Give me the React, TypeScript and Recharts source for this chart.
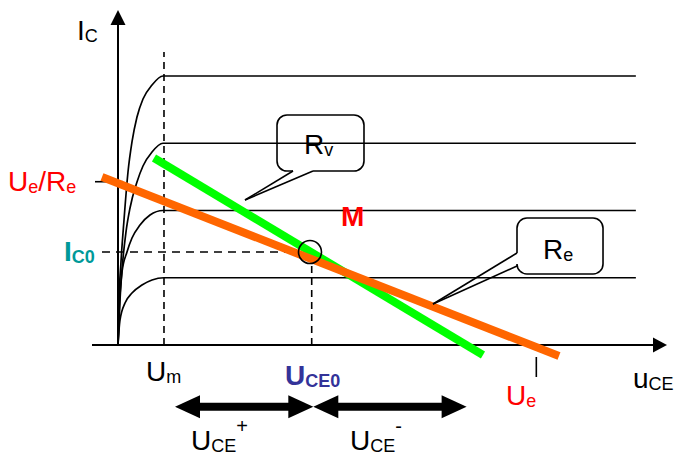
import React from 'react';
import {
  LineChart,
  Line,
  XAxis,
  YAxis,
  ReferenceLine,
  ReferenceDot,
  ReferenceArea,
} from 'recharts';

// output characteristics I_C(u_CE), one per base current (u in V, i in mA)
const curve1mA = [[0, 0], [0.024, 0.223], [0.048, 0.372], [0.167, 0.625], [0.333, 0.773], [0.571, 0.892], [0.81, 0.967], [1.095, 1.0], [12.33, 1.0]];
const curve2mA = [[0, 0], [0.024, 0.446], [0.095, 1.086], [0.214, 1.383], [0.333, 1.591], [0.524, 1.784], [0.762, 1.933], [1.071, 2.0], [12.33, 2.0]];
const curve3mA = [[0, 0], [0.048, 0.669], [0.095, 1.115], [0.19, 1.68], [0.286, 2.037], [0.452, 2.424], [0.595, 2.662], [0.81, 2.87], [1.071, 3.0], [12.33, 3.0]];
const curve4mA = [[0, 0], [0.024, 0.669], [0.071, 1.234], [0.143, 1.859], [0.238, 2.572], [0.333, 3.019], [0.452, 3.39], [0.595, 3.658], [0.81, 3.866], [1.071, 4.0], [12.33, 4.0]];

// load lines: static (Re, orange) and dynamic (Rv, green)
const loadLineRe = [[-0.381, 2.498], [10.5, -0.164]];
const loadLineRv = [[0.857, 2.78], [8.69, -0.149]];

// characteristic values
const U_M = 1.095;
const U_E = 9.96;
const UE_RE = 2.428;
const U_CE0 = 4.612;
const I_C0 = 1.383;
const Q_POINT = [4.571, 1.383];

// swing arrows below the axis
const swingTips = [1.357, 4.65, 8.3];
const swingShafts = [[1.95, 4.095], [5.21, 7.74]];
const SWING_LEVEL = -0.917;

// callouts: box [u1, u2, i1, i2], pointer bases and tip
const calloutRv = { box: [3.786, 5.857, 2.587, 3.42], bases: [[4.167, 2.587], [4.643, 2.587]], tip: [3.024, 2.156] };
const calloutRe = { box: [9.5, 11.548, 1.056, 1.888], bases: [[9.5, 1.368], [9.5, 1.175]], tip: [7.5, 0.61] };

type Piece = { t: string; kind?: 'sub' | 'sup' };

const yTitle: Piece[] = [{ t: 'I' }, { t: 'C', kind: 'sub' }];
const xTitle: Piece[] = [{ t: 'u' }, { t: 'CE', kind: 'sub' }];
const ueReText: Piece[] = [{ t: 'U' }, { t: 'e', kind: 'sub' }, { t: '/R' }, { t: 'e', kind: 'sub' }];
const ic0Text: Piece[] = [{ t: 'I' }, { t: 'C0', kind: 'sub' }];
const mText: Piece[] = [{ t: 'M' }];
const rvText: Piece[] = [{ t: 'R' }, { t: 'v', kind: 'sub' }];
const reText: Piece[] = [{ t: 'R' }, { t: 'e', kind: 'sub' }];
const umText: Piece[] = [{ t: 'U' }, { t: 'm', kind: 'sub' }];
const uce0Text: Piece[] = [{ t: 'U' }, { t: 'CE0', kind: 'sub' }];
const ueText: Piece[] = [{ t: 'U' }, { t: 'e', kind: 'sub' }];
const ucePlusText: Piece[] = [{ t: 'U' }, { t: 'CE', kind: 'sub' }, { t: '+', kind: 'sup' }];
const uceMinusText: Piece[] = [{ t: 'U' }, { t: 'CE', kind: 'sub' }, { t: '-', kind: 'sup' }];

const FONT = '"Liberation Sans", Arial, sans-serif';
const RED = '#FF0000';
const ORANGE = '#FF6600';
const GREEN = '#00FF00';
const TEAL = '#009999';
const NAVY = '#333399';

// plot spans the whole picture, origin at (118, 345)
const U_DOMAIN = [-118 / 42, 558 / 42];
const I_DOMAIN = [-112 / 67.25, 345 / 67.25];

const toPts = (arr: number[][]) => arr.map(([u, i]) => ({ u, i }));

const textShape = (pieces: Piece[], color = '#000', bold = false) => (p: any) => {
  let shift = 0;
  return (
    <text x={p.cx} y={p.cy} fontFamily={FONT} fill={color} fontWeight={bold ? 'bold' : 'normal'}>
      {pieces.map((pc, k) => {
        const target = pc.kind === 'sub' ? 2 : pc.kind === 'sup' ? -17 : 0;
        const dy = target - shift;
        shift = target;
        return (
          <tspan key={k} dy={dy} fontSize={pc.kind === 'sup' ? 20 : pc.kind ? 18 : 28}>
            {pc.t}
          </tspan>
        );
      })}
    </text>
  );
};

const arrowHead = (dir: 'up' | 'right' | 'left', len: number, half: number) => (p: any) => {
  const { cx, cy } = p;
  let pts = '';
  if (dir === 'up') pts = `${cx},${cy} ${cx - half},${cy + len} ${cx + half},${cy + len}`;
  else if (dir === 'right') pts = `${cx},${cy} ${cx - len},${cy - half} ${cx - len},${cy + half}`;
  else pts = `${cx},${cy} ${cx + len},${cy - half} ${cx + len},${cy + half}`;
  return <polygon points={pts} fill="#000" />;
};

// rounded box, open where the pointer leaves it
const boxShape = (side: 'bottom' | 'left', g0: number, g1: number) => (p: any) => {
  const { x, y, width: w, height: h } = p;
  const r = 10;
  let d = '';
  if (side === 'bottom') {
    const a = x + g0 * w;
    const b = x + g1 * w;
    d = `M${b},${y + h} L${x + w - r},${y + h} A${r},${r} 0 0 0 ${x + w},${y + h - r} L${x + w},${y + r} A${r},${r} 0 0 0 ${x + w - r},${y} L${x + r},${y} A${r},${r} 0 0 0 ${x},${y + r} L${x},${y + h - r} A${r},${r} 0 0 0 ${x + r},${y + h} L${a},${y + h}`;
  } else {
    const a = y + g0 * h;
    const b = y + g1 * h;
    d = `M${x},${b} L${x},${y + h - r} A${r},${r} 0 0 0 ${x + r},${y + h} L${x + w - r},${y + h} A${r},${r} 0 0 0 ${x + w},${y + h - r} L${x + w},${y + r} A${r},${r} 0 0 0 ${x + w - r},${y} L${x + r},${y} A${r},${r} 0 0 0 ${x},${y + r} L${x},${a}`;
  }
  return <path d={d} fill="none" stroke="#000" strokeWidth={1.6} />;
};

const circleShape = (p: any) => (
  <circle cx={p.cx} cy={p.cy} r={11.5} fill="none" stroke="#000" strokeWidth={1.6} />
);

const curves = [curve1mA, curve2mA, curve3mA, curve4mA];

export default function App() {
  const [ru1, ru2, ri1, ri2] = calloutRv.box;
  const rvGap0 = (calloutRv.bases[0][0] - ru1) / (ru2 - ru1);
  const rvGap1 = (calloutRv.bases[1][0] - ru1) / (ru2 - ru1);
  const [eu1, eu2, ei1, ei2] = calloutRe.box;
  const reGap0 = (ei2 - calloutRe.bases[0][1]) / (ei2 - ei1);
  const reGap1 = (ei2 - calloutRe.bases[1][1]) / (ei2 - ei1);

  return (
    <div style={{ position: 'fixed', left: 0, top: 0, width: 676, height: 457, background: '#fff' }}>
      <LineChart width={676} height={457} margin={{ top: 0, right: 0, bottom: 0, left: 0 }}>
        <XAxis type="number" dataKey="u" domain={U_DOMAIN} allowDataOverflow hide />
        <YAxis type="number" dataKey="i" domain={I_DOMAIN} allowDataOverflow hide />

        {/* axes */}
        <ReferenceLine segment={[{ x: -0.619, y: 0 }, { x: 12.786, y: 0 }]} stroke="#000" strokeWidth={2} />
        <ReferenceLine segment={[{ x: 0, y: -0.015 }, { x: 0, y: 4.77 }]} stroke="#000" strokeWidth={2} />
        <ReferenceDot x={13.071} y={0} shape={arrowHead('right', 14, 7.5)} />
        <ReferenceDot x={0} y={4.981} shape={arrowHead('up', 15, 7.5)} />

        {/* marker lines */}
        <ReferenceLine segment={[{ x: U_M, y: 0 }, { x: U_M, y: 4.357 }]} stroke="#000" strokeWidth={1.6} strokeDasharray="7 5" />
        <ReferenceLine segment={[{ x: -0.381, y: I_C0 }, { x: 4.31, y: I_C0 }]} stroke="#000" strokeWidth={1.6} strokeDasharray="8 6" />
        <ReferenceLine segment={[{ x: U_CE0, y: 0 }, { x: U_CE0, y: 1.219 }]} stroke="#000" strokeWidth={1.6} strokeDasharray="7 5" />
        <ReferenceLine segment={[{ x: -0.548, y: UE_RE }, { x: 0.119, y: UE_RE }]} stroke="#000" strokeWidth={1.6} />
        <ReferenceLine segment={[{ x: U_E, y: -0.178 }, { x: U_E, y: -0.476 }]} stroke="#000" strokeWidth={1.6} />

        {curves.map((c, k) => (
          <Line
            key={k}
            data={toPts(c)}
            dataKey="i"
            type="monotone"
            stroke="#000"
            strokeWidth={1.7}
            dot={false}
            activeDot={false}
            isAnimationActive={false}
          />
        ))}
        <Line data={toPts(loadLineRv)} dataKey="i" type="linear" stroke={GREEN} strokeWidth={8} dot={false} activeDot={false} isAnimationActive={false} />
        <Line data={toPts(loadLineRe)} dataKey="i" type="linear" stroke={ORANGE} strokeWidth={8} dot={false} activeDot={false} isAnimationActive={false} />

        <ReferenceDot x={Q_POINT[0]} y={Q_POINT[1]} shape={circleShape} />

        {/* callouts */}
        <ReferenceArea x1={ru1} x2={ru2} y1={ri1} y2={ri2} shape={boxShape('bottom', rvGap0, rvGap1)} />
        {calloutRv.bases.map((b, k) => (
          <ReferenceLine key={'rv' + k} segment={[{ x: b[0], y: b[1] }, { x: calloutRv.tip[0], y: calloutRv.tip[1] }]} stroke="#000" strokeWidth={1.6} />
        ))}
        <ReferenceArea x1={eu1} x2={eu2} y1={ei1} y2={ei2} shape={boxShape('left', reGap0, reGap1)} />
        {calloutRe.bases.map((b, k) => (
          <ReferenceLine key={'re' + k} segment={[{ x: b[0], y: b[1] }, { x: calloutRe.tip[0], y: calloutRe.tip[1] }]} stroke="#000" strokeWidth={1.6} />
        ))}

        {/* swing arrows */}
        {swingShafts.map((s, k) => (
          <ReferenceLine key={'sh' + k} segment={[{ x: s[0], y: SWING_LEVEL }, { x: s[1], y: SWING_LEVEL }]} stroke="#000" strokeWidth={8} />
        ))}
        <ReferenceDot x={swingTips[0]} y={SWING_LEVEL} shape={arrowHead('left', 25, 11.5)} />
        <ReferenceDot x={swingTips[1]} y={SWING_LEVEL} shape={arrowHead('right', 25, 11.5)} />
        <ReferenceDot x={swingTips[1]} y={SWING_LEVEL} shape={arrowHead('left', 25, 11.5)} />
        <ReferenceDot x={swingTips[2]} y={SWING_LEVEL} shape={arrowHead('right', 25, 11.5)} />

        {/* labels */}
        <ReferenceDot x={-0.976} y={4.535} shape={textShape(yTitle)} />
        <ReferenceDot x={12.262} y={-0.644} shape={textShape(xTitle)} />
        <ReferenceDot x={-2.619} y={2.283} shape={textShape(ueReText, RED)} />
        <ReferenceDot x={-1.286} y={1.254} shape={textShape(ic0Text, TEAL, true)} />
        <ReferenceDot x={5.31} y={1.77} shape={textShape(mText, RED, true)} />
        <ReferenceDot x={4.429} y={2.84} shape={textShape(rvText)} />
        <ReferenceDot x={10.119} y={1.279} shape={textShape(reText)} />
        <ReferenceDot x={0.667} y={-0.535} shape={textShape(umText)} />
        <ReferenceDot x={3.976} y={-0.595} shape={textShape(uce0Text, NAVY, true)} />
        <ReferenceDot x={9.238} y={-0.892} shape={textShape(ueText, RED)} />
        <ReferenceDot x={1.738} y={-1.561} shape={textShape(ucePlusText)} />
        <ReferenceDot x={5.524} y={-1.561} shape={textShape(uceMinusText)} />
      </LineChart>
    </div>
  );
}
